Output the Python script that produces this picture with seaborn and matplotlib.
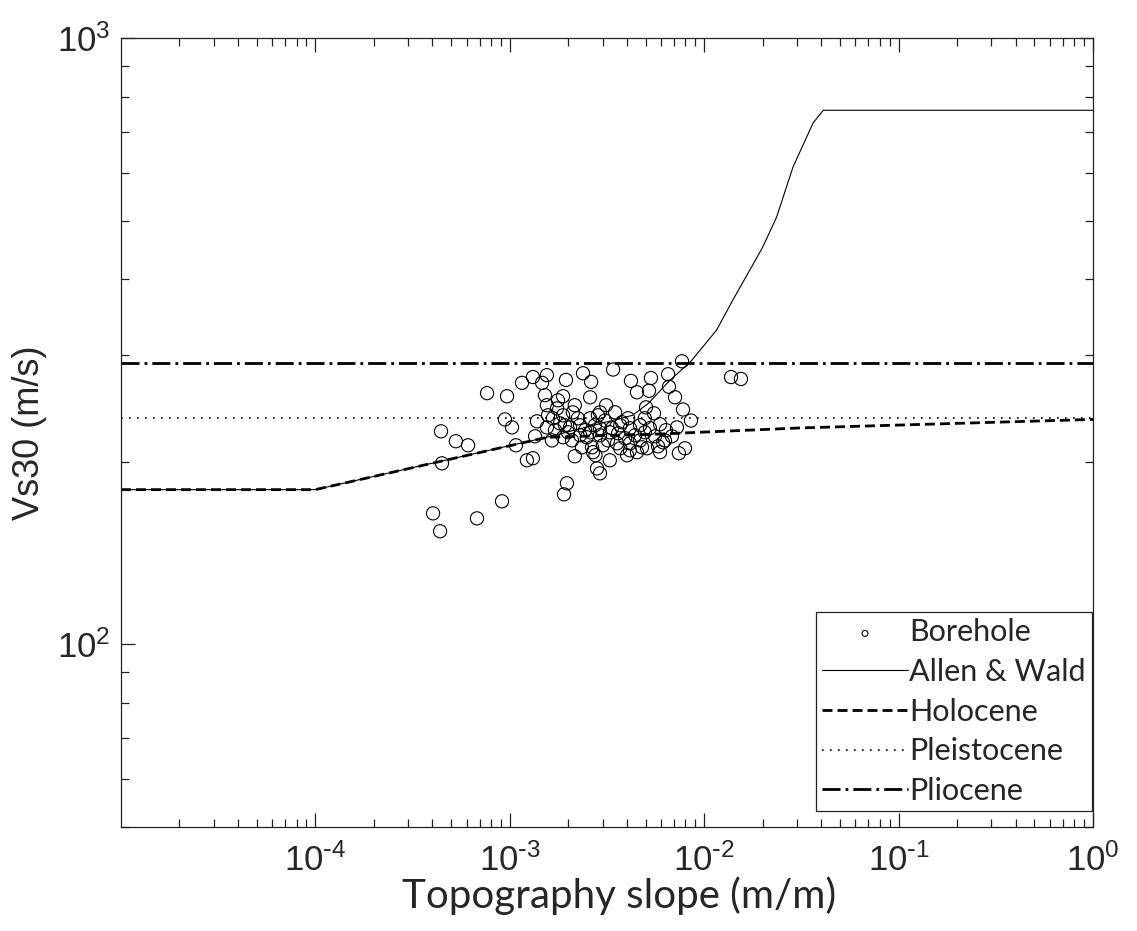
import numpy as np
import pandas as pd
import seaborn as sns
import matplotlib.pyplot as plt
from matplotlib.ticker import LogLocator, NullFormatter, FuncFormatter

borehole_slope = [4.03e-4, 4.38e-4, 6.78e-4, 9.12e-4, 1.968e-3, 1.901e-3, 4.48e-4, 1.225e-3,
                  1.315e-3, 2.16e-3, 2.81e-3, 4.43e-4, 5.28e-4, 6.10e-4, 7.64e-4, 9.68e-4,
                  1.156e-3, 1.315e-3, 1.466e-3, 1.552e-3, 1.945e-3, 2.38e-3, 2.62e-3, 2.59e-3,
                  1.880e-3, 9.44e-4, 1.026e-3, 1.076e-3, 1.38e-3, 1.552e-3, 1.75e-3, 1.88e-3,
                  1.349e-3, 1.552e-3, 1.667e-3, 1.811e-3, 2.11e-3, 2.04e-3, 1.88e-3, 2.30e-3,
                  2.59e-3, 2.49e-3, 2.35e-3, 2.65e-3, 3.40e-3, 4.20e-3, 5.32e-3, 4.51e-3,
                  5.20e-3, 6.52e-3, 7.69e-3, 6.59e-3, 7.08e-3, 7.78e-3, 8.55e-3, 7.24e-3,
                  5.02e-3, 5.52e-3, 6.28e-3, 7.96e-3, 7.41e-3, 0.01374, 0.01545, 2.91e-3,
                  5.93e-3, 4.79e-3, 4.15e-3, 2.68e-3, 2.91e-3, 3.27e-3, 4.01e-3, 4.51e-3,
                  5.08e-3, 6.14e-3, 3.56e-3, 4.15e-3,
                  1.572e-3, 1.708e-3, 1.923e-3, 2.09e-3, 2.24e-3, 2.44e-3, 2.74e-3, 2.91e-3,
                  3.09e-3, 3.20e-3, 3.36e-3, 3.61e-3, 3.78e-3, 3.92e-3, 4.15e-3, 4.41e-3,
                  4.68e-3, 4.95e-3, 5.26e-3, 5.58e-3, 5.93e-3, 6.36e-3, 6.82e-3, 5.79e-3,
                  3.70e-3, 3.01e-3, 2.84e-3, 3.48e-3, 4.06e-3, 4.68e-3, 2.16e-3, 1.77e-3,
                  1.517e-3, 1.648e-3, 2.76e-3, 3.13e-3, 2.59e-3, 3.27e-3, 4.95e-3, 3.70e-3,
                  2.91e-3, 2.30e-3, 1.99e-3]
borehole_vs30 = [164.5, 153.7, 161.4, 172.2, 184.4, 176.8, 198.9, 201.2,
                 202.8, 204.3, 195.1, 224.6, 216.3, 213.0, 259.6, 256.6,
                 270.0, 276.0, 270.0, 278.0, 273.0, 280.0, 271.0, 255.6,
                 256.6, 235.0, 228.0, 213.0, 233.3, 248.0, 245.0, 238.7,
                 220.4, 228.0, 236.0, 231.5, 241.4, 228.0, 219.6, 229.8,
                 236.0, 219.6, 211.4, 211.4, 284.0, 272.0, 275.0, 260.5,
                 262.0, 279.0, 293.0, 266.0, 255.6, 244.0, 234.0, 228.0,
                 246.0, 240.5, 217.0, 210.6, 206.7, 276.0, 274.0, 241.4,
                 207.5, 211.4, 209.0, 207.5, 191.5, 201.2, 205.1, 207.5,
                 210.6, 215.4, 214.6, 214.6,
                 238.7, 225.6, 229.8, 217.0, 236.0, 225.6, 229.8, 221.3,
                 234.0, 217.0, 227.3, 223.0, 232.5, 218.8, 227.3, 221.3,
                 229.8, 223.8, 227.3, 220.4, 230.7, 225.6, 220.4, 212.2,
                 210.6, 213.0, 238.7, 241.4, 236.0, 217.0, 248.0, 252.7,
                 257.6, 217.0, 205.1, 248.0, 223.8, 223.8, 236.0, 229.8,
                 227.3, 221.3, 223.8]

# model curves
aw_slope = [1e-5, 1e-4, 1.55e-3, 4.28e-3, 5.15e-3, 6.67e-3, 8.55e-3, 0.01159, 0.01406,
            0.0200, 0.0236, 0.0286, 0.0363, 0.041, 1.0]
aw_vs30 = [180, 180, 219.6, 238.7, 249.6, 272.7, 293, 330, 370, 452, 507, 612, 724, 760, 760]

holo_slope = [1e-5, 1e-4, 1.55e-3, 3e-3, 5.3e-3, 0.031, 1.0]
holo_vs30 = [180, 180, 219.5, 221, 222, 227.5, 235]

pleis_slope = [1e-5, 1.0]
pleis_vs30 = [236, 236]

plio_slope = [1e-5, 1.0]
plio_vs30 = [291, 291]

sns.set_style('ticks')
plt.rcParams['font.family'] = ['Liberation Sans', 'DejaVu Sans']
plt.rcParams['axes.linewidth'] = 0.9
plt.rcParams['axes.edgecolor'] = '#222222'
plt.rcParams['axes.unicode_minus'] = False

fig = plt.figure(figsize=(11.37, 9.31), dpi=100)
ax = fig.add_axes([0.1064, 0.1117, 0.8549, 0.8475])

bore = pd.DataFrame({'slope': borehole_slope, 'vs30': borehole_vs30})

sns.lineplot(x=aw_slope, y=aw_vs30, ax=ax, color='k', lw=0.8, label='Allen & Wald',
             estimator=None, sort=False)
sns.lineplot(x=holo_slope, y=holo_vs30, ax=ax, color='k', lw=2.0,
             linestyle=(0, (3.6, 1.8)), label='Holocene', estimator=None, sort=False)
sns.lineplot(x=pleis_slope, y=pleis_vs30, ax=ax, color='k', lw=1.2,
             linestyle=(0, (1, 3.8)), label='Pleistocene', estimator=None, sort=False)
sns.lineplot(x=plio_slope, y=plio_vs30, ax=ax, color='k', lw=2.0,
             linestyle=(0, (6.5, 1.8, 1, 1.8)), label='Pliocene', estimator=None, sort=False)
sns.scatterplot(data=bore, x='slope', y='vs30', ax=ax, marker='o', s=90,
                facecolor='none', edgecolor='k', linewidth=0.8, label='Borehole', zorder=3)

ax.set_xscale('log')
ax.set_yscale('log')
ax.set_xlim(1e-5, 1)
ax.set_ylim(50, 1000)

ax.xaxis.set_minor_locator(LogLocator(base=10, subs=np.arange(2, 10), numticks=20))
ax.yaxis.set_minor_locator(LogLocator(base=10, subs=np.arange(2, 10), numticks=20))
ax.xaxis.set_minor_formatter(NullFormatter())
ax.yaxis.set_minor_formatter(NullFormatter())
ax.set_xticks([1e-4, 1e-3, 1e-2, 1e-1, 1e0])
ax.set_yticks([1e2, 1e3])


def powlabel(v, pos):
    e = round(np.log10(v))
    if e < 0:
        return r'$\mathregular{10^{\text{-}%d}}$' % (-e)
    return r'$\mathregular{10^{%d}}$' % e


ax.xaxis.set_major_formatter(FuncFormatter(powlabel))
ax.yaxis.set_major_formatter(FuncFormatter(powlabel))

ax.tick_params(which='both', direction='in', top=True, right=True, color='#222222', width=0.9)
ax.tick_params(which='major', length=10, labelsize=25)
ax.tick_params(axis='x', which='major', pad=12)
ax.tick_params(axis='y', which='major', pad=8)
ax.tick_params(which='minor', length=5.5)

ax.set_xlabel('Topography slope (m/m)', family=['Lato', 'DejaVu Sans'], fontsize=29, labelpad=0)
ax.xaxis.set_label_coords(0.512, -0.062)
ax.set_ylabel('Vs30 (m/s)', fontsize=26)
ax.yaxis.set_label_coords(-0.076, 0.5)

handles, labels = ax.get_legend_handles_labels()
lookup = dict(zip(labels, handles))
order = ['Borehole', 'Allen & Wald', 'Holocene', 'Pleistocene', 'Pliocene']
leg = ax.legend([lookup[k] for k in order], order, loc='lower right',
                bbox_to_anchor=(0.999, 0.0203), borderaxespad=0, frameon=True,
                fancybox=False, framealpha=1, edgecolor='#222222',
                prop={'family': ['Lato', 'DejaVu Sans'], 'size': 22},
                handlelength=2.8, handletextpad=0.05, labelspacing=0.38,
                borderpad=0.2, markerscale=0.45)
leg.get_frame().set_linewidth(0.9)

fig.savefig('out.png', dpi=100)
